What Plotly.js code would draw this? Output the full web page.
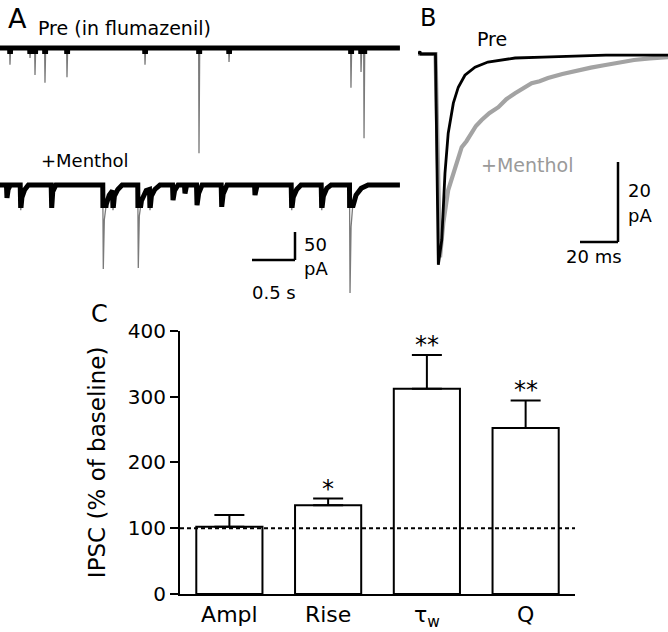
<!DOCTYPE html>
<html><head><meta charset="utf-8">
<script src="https://cdn.plot.ly/plotly-3.0.1.min.js"></script>
<style>html,body{margin:0;padding:0;background:#fff}</style>
</head><body><div id="chart" style="width:668px;height:632px"></div>
<script>
// ---------- Panel C : summary bars ----------
const categories = ['Ampl', 'Rise', 'τ<sub>w</sub>', 'Q'];
const ipscPct = [102, 135, 312, 252];
const ipscSem = [18, 10, 51, 42];
const significance = ['', '*', '**', '**'];
const baselinePct = 100;

// ---------- Panel A : raw traces (time s, current pA) ----------
const preTime = [0, 0.112, 0.116, 0.124, 0.345, 0.349, 0.357, 0.403, 0.407, 0.415, 0.519, 0.523, 0.531,
  0.775, 0.779, 0.787, 1.682, 1.686, 1.694, 2.31, 2.314, 2.322, 2.659, 2.663, 2.671,
  4.077, 4.081, 4.089, 4.194, 4.198, 4.206, 4.229, 4.233, 4.241, 4.65];
const prePA = [0, 0, -30, 0, 0, -18, 0, 0, -48, 0, 0, -62, 0,
  0, -52, 0, 0, -30, 0, 0, -188, 0, 0, -25, 0,
  0, -71, 0, 0, -43, 0, 0, -161, 0, 0];

const mentholTime = [0, 0.075, 0.081, 0.095, 0.12, 0.235, 0.241, 0.255, 0.285, 0.33,
  0.595, 0.601, 0.613, 0.65, 1.195, 1.201, 1.213, 1.235, 1.27, 1.308, 1.314, 1.33, 1.37, 1.42,
  1.602, 1.608, 1.62, 1.645, 1.7, 1.738, 1.744, 1.76, 1.8, 1.86,
  2.006, 2.012, 2.03, 2.07, 2.145, 2.151, 2.17, 2.285, 2.291, 2.31, 2.35,
  2.572, 2.578, 2.595, 2.64, 2.96, 2.965, 2.99, 3.386, 3.392, 3.41, 3.45, 3.5,
  3.735, 3.741, 3.76, 3.8, 3.85, 4.064, 4.07, 4.082, 4.1, 4.14, 4.2, 4.28, 4.65];
const mentholPA = [0, 0, -23, -8, 0, 0, -45, -22, -9, 0,
  0, -41, -12, 0, 0, -150, -62, -35, -18, -10, -45, -20, -8, 0,
  0, -148, -55, -28, -10, -8, -45, -20, -8, 0,
  0, -27, -10, 0, 0, -15, 0, 0, -36, -15, 0,
  0, -39, -16, 0, 0, -18, 0, 0, -45, -22, -8, 0,
  0, -45, -20, -6, 0, 0, -193, -75, -40, -18, -6, 0, 0];

// ---------- Panel B : averaged IPSCs (time ms, current pA) ----------
const avgPreMs = [0, 1, 1.5, 9.2, 10.7, 12.5, 14.2, 15.9, 18.6, 21.2, 24.7, 30, 36.8, 51.1, 65.8, 98.9, 131.6];
const avgPrePA = [0, 0.6, 0, 0, -52.7, -46.5, -29.8, -19.8, -12.3, -8.3, -5.3, -3.3, -2, -1, -0.8, -0.3, -0.3];
const avgMentholMs = [0, 9.2, 11.6, 13.3, 15.9, 19.5, 23, 25.5, 28.3, 30.5, 33.5, 37.5, 42.3, 46.5, 51.1, 55.5, 59.8, 64, 68.4, 76, 84.2, 91, 97.9, 105.5, 113.7, 122, 131.6];
const avgMentholPA = [0, 0, -50.8, -42.3, -34, -28.3, -23.3, -21.8, -19.8, -18, -16.5, -14.8, -13.3, -11.3, -9.8, -8.6, -7.3, -6.8, -6, -5, -4, -3.4, -2.8, -2.1, -1.5, -1.1, -0.8];

const scaleA = {time: 0.5, current: 50};
const scaleB = {time: 20, current: 20};

// ---------- layout helpers (pixel -> paper) ----------
const W = 668, H = 632;
const fx = p => p / W;
const fy = p => 1 - p / H;
const FONT = 'DejaVu Sans, Liberation Sans, Arial, sans-serif';
const catIndex = categories.map((c, i) => i);

const traces = [
  // Panel C bars
  {type: 'bar', x: catIndex, y: ipscPct, width: 0.67, xaxis: 'x', yaxis: 'y',
   marker: {color: '#ffffff', line: {color: '#000', width: 2}},
   error_y: {type: 'data', symmetric: false, array: ipscSem, arrayminus: ipscSem.map(() => 0),
             color: '#000', thickness: 2, width: 15},
   hoverinfo: 'skip'},
  {type: 'scatter', mode: 'lines', x: [-0.5, catIndex.length - 0.5], y: [baselinePct, baselinePct], xaxis: 'x', yaxis: 'y',
   line: {color: '#000', width: 2, dash: '4px,3px'}, hoverinfo: 'skip'},

  // Panel A: pre trace (thin full + thick clipped near baseline)
  {type: 'scatter', mode: 'lines', x: preTime, y: prePA, xaxis: 'x2', yaxis: 'y2',
   line: {color: '#7a7a7a', width: 1.3}},
  {type: 'scatter', mode: 'lines', x: preTime, y: prePA, xaxis: 'x2', yaxis: 'y3',
   line: {color: '#000', width: 5}},
  // Panel A: menthol trace
  {type: 'scatter', mode: 'lines', x: mentholTime, y: mentholPA, xaxis: 'x2', yaxis: 'y4',
   line: {color: '#7a7a7a', width: 1.3}},
  {type: 'scatter', mode: 'lines', x: mentholTime, y: mentholPA, xaxis: 'x2', yaxis: 'y5',
   line: {color: '#000', width: 5}},

  // Panel B averaged traces
  {type: 'scatter', mode: 'lines', x: avgMentholMs, y: avgMentholPA, xaxis: 'x3', yaxis: 'y6',
   line: {color: '#a3a3a3', width: 4.2}},
  {type: 'scatter', mode: 'lines', x: avgPreMs, y: avgPrePA, xaxis: 'x3', yaxis: 'y6',
   line: {color: '#000', width: 2.8}}
];

// Axis ranges chosen so that: A = 86 px/s, 0.56 px/pA ; B = 1.9 px/ms, 4 px/pA
const hidden = {visible: false, fixedrange: true};
const layout = {
  width: W, height: H,
  margin: {l: 0, r: 0, t: 0, b: 0},
  paper_bgcolor: '#fff', plot_bgcolor: 'rgba(0,0,0,0)',
  showlegend: false,
  font: {family: FONT, color: '#000'},
  xaxis: {domain: [fx(180), fx(575)], range: [-0.5, catIndex.length - 0.5], anchor: 'y', type: 'linear',
          tickvals: catIndex, ticktext: categories,
          showline: true, linewidth: 2, linecolor: '#000', ticks: '', showgrid: false, zeroline: false,
          tickfont: {size: 22, family: FONT, color: '#000'}},
  yaxis: {domain: [fy(594), fy(330.7)], range: [0, 400], anchor: 'x',
          showline: true, linewidth: 2, linecolor: '#000', ticks: 'outside', ticklen: 8, tickwidth: 2,
          tickcolor: '#000', tickvals: [0, 100, 200, 300, 400], showgrid: false, zeroline: false,
          tickfont: {size: 20, family: FONT, color: '#000'},
          title: {text: 'IPSC (% of baseline)', font: {size: 23, family: FONT, color: '#000'}, standoff: 16}},
  xaxis2: Object.assign({domain: [0, fx(400)], range: [0, 400 / 86], anchor: 'y2'}, hidden),
  yaxis2: Object.assign({domain: [fy(160), fy(30)], range: [-(160 - 48) / 0.56, (48 - 30) / 0.56], anchor: 'x2'}, hidden),
  yaxis3: Object.assign({domain: [fy(54), fy(30)], range: [-(54 - 48) / 0.56, (48 - 30) / 0.56], anchor: 'x2'}, hidden),
  yaxis4: Object.assign({domain: [fy(300), fy(160)], range: [-(300 - 185) / 0.56, (185 - 160) / 0.56], anchor: 'x2'}, hidden),
  yaxis5: Object.assign({domain: [fy(208), fy(160)], range: [-(208 - 185) / 0.56, (185 - 160) / 0.56], anchor: 'x2'}, hidden),
  xaxis3: Object.assign({domain: [fx(418), 1], range: [0, 250 / 1.9], anchor: 'y6'}, hidden),
  yaxis6: Object.assign({domain: [fy(270), fy(40)], range: [-(270 - 54) / 4, (54 - 40) / 4], anchor: 'x3'}, hidden),
  shapes: [],
  annotations: []
};

// Scale bars (A in menthol-trace axes, B in averaged axes)
const aX = 295 / 86, aY = -(260 - 185) / 0.56;
layout.shapes.push(
  {type: 'line', xref: 'x2', yref: 'y4', x0: aX - scaleA.time, x1: aX, y0: aY, y1: aY, line: {color: '#000', width: 2.5}},
  {type: 'line', xref: 'x2', yref: 'y4', x0: aX, x1: aX, y0: aY, y1: aY + scaleA.current, line: {color: '#000', width: 2.5}}
);
const bX = (618 - 418) / 1.9, bY = -(242 - 54) / 4;
layout.shapes.push(
  {type: 'line', xref: 'x3', yref: 'y6', x0: bX - scaleB.time, x1: bX, y0: bY, y1: bY, line: {color: '#000', width: 2.5}},
  {type: 'line', xref: 'x3', yref: 'y6', x0: bX, x1: bX, y0: bY, y1: bY + scaleB.current, line: {color: '#000', width: 2.5}}
);

function txt(text, x, y, size, opts) {
  return Object.assign({text: text, xref: 'paper', yref: 'paper', x: fx(x), y: fy(y),
    xanchor: 'center', yanchor: 'middle', showarrow: false,
    font: {size: size, family: FONT, color: '#000'}}, opts || {});
}
layout.annotations.push(
  txt('A', 17, 18, 27),
  txt('Pre (in flumazenil)', 36, 28, 19, {xanchor: 'left'}),
  txt('+Menthol', 39, 160, 18, {xanchor: 'left'}),
  txt(String(scaleA.current), 302, 244, 18, {xanchor: 'left'}),
  txt('pA', 302, 268, 18, {xanchor: 'left'}),
  txt(scaleA.time + ' s', 274, 292, 18),
  txt('B', 428, 18, 24),
  txt('Pre', 492, 39, 19),
  txt('+Menthol', 527, 165, 19, {font: {size: 19, family: FONT, color: '#9a9a9a'}}),
  txt(String(scaleB.current), 626, 190, 18, {xanchor: 'left'}),
  txt('pA', 626, 215, 18, {xanchor: 'left'}),
  txt(scaleB.time + ' ms', 594, 257, 18),
  txt('C', 100, 314, 24)
);
// significance stars
catIndex.forEach(i => {
  if (significance[i]) {
    layout.annotations.push({text: significance[i], xref: 'x', yref: 'y', x: i, y: ipscPct[i] + ipscSem[i],
      yanchor: 'bottom', xanchor: 'center', showarrow: false, yshift: -6,
      font: {size: 24, family: FONT, color: '#000'}});
  }
});

Plotly.newPlot('chart', traces, layout, {staticPlot: true, displayModeBar: false});
</script></body></html>
